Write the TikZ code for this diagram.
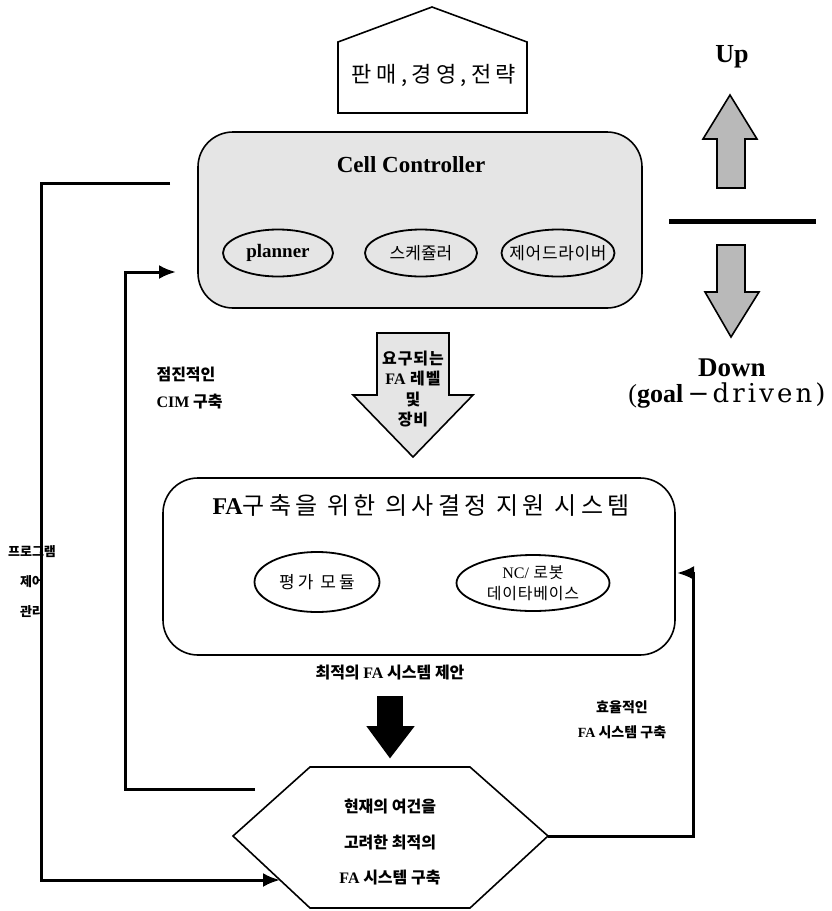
\documentclass[tikz,border=0pt]{standalone}
\usepackage{fontspec}
\setmainfont{Liberation Serif}
\newfontfamily\kr{Noto Sans CJK KR}
\newfontfamily\dvs{DejaVu Serif}
\usetikzlibrary{positioning,shapes.geometric,arrows.meta}
\newcommand{\fsz}[1]{\fontsize{#1}{#1}\selectfont}
\newcommand{\wide}[1]{\addfontfeature{LetterSpace=#1}}

\begin{document}
\begin{tikzpicture}[x=1pt, y=-1pt,
          panel/.style={draw, line width=1.6pt, rounded corners=35pt},
          unit/.style={draw, ellipse, line width=1.8pt, inner sep=0pt},
          bigarrow/.style={draw, line width=1.6pt},
          link/.style={line width=3pt},
          tip/.style={-{Latex[length=17pt,width=14pt]}},
          label/.style={font=\kr\bfseries\fsz{14}, align=center}]
        \useasboundingbox (0,0) rectangle (832,911);
        % top: sales, management, strategy
        \draw[line width=1.6pt] (338,42) -- (432,7) -- (527,42) -- (527,113) -- (338,113) -- cycle;
        \node[font=\kr\fsz{22}\wide{20}] (sales) at (434,75) {판매,경영,전략};
        % cell controller
        \node[panel, fill=gray!20, minimum width=444pt, minimum height=176pt] (cell) at (420,220) {};
        \node[font=\fsz{23}\bfseries] (celltitle) at (411,165) {Cell Controller};
        \node[unit, minimum width=110pt, minimum height=47pt, font=\fsz{19}\bfseries] (planner) at (278,253) {planner};
        \node[unit, minimum width=112pt, minimum height=47pt, font=\kr\fsz{17}] (sched) at (421,253) {스케쥴러};
        \node[unit, minimum width=113pt, minimum height=47pt, inner xsep=-12pt, font=\kr\fsz{17}\wide{4}] (driver) at (558,253) {제어드라이버};
        % requirement arrow
        \draw[bigarrow, fill=gray!20] (377,333) -- (449,333) -- (449,395) -- (473,395) -- (413,457) -- (353,395) -- (377,395) -- cycle;
        \node[font=\kr\bfseries\fontsize{16}{20.5}\selectfont\wide{6}, align=center] (need) at (413,389)
          {요구되는\\{\rmfamily FA} 레벨\\및\\장비};
        % up / down
        \node[font=\fsz{26}\bfseries] (up) at (732,57) {Up};
        \draw[bigarrow, fill=gray!55] (730,95) -- (757,139) -- (745,139) -- (745,188) -- (717,188) -- (717,139) -- (703,139) -- cycle;
        \draw[line width=5pt] (669,221) -- (816,221);
        \draw[bigarrow, fill=gray!55] (731,337) -- (759,292) -- (745,292) -- (745,245) -- (717,245) -- (717,292) -- (705,292) -- cycle;
        \node[font=\fsz{27}\bfseries] (down) at (732,368) {Down};
        \node[font=\fsz{26}] (goal) at (727,395) {(\textbf{goal}\,{\dvs\wide{12}−driven)}};
        % decision support system
        \node[panel, minimum width=512pt, minimum height=177pt] (dss) at (419,566.5) {};
        \node[font=\kr\fsz{24}\wide{18}] (dsstitle) at (421,505) {\textbf{\rmfamily FA}구축을 위한 의사결정 지원 시스템};
        \node[unit, minimum width=125pt, minimum height=60pt, font=\kr\fsz{17}\wide{18}] (eval) at (317,582) {평가 모듈};
        \node[unit, minimum width=153pt, minimum height=56pt, font=\kr\fontsize{16}{21}\selectfont\wide{5}, align=center] (ncdb) at (533,583)
          {{\rmfamily NC/} 로봇\\데이타베이스};
        \node[font=\kr\bfseries\fsz{16}] (propose) at (390,673) {최적의 {\rmfamily FA} 시스템 제안};
        \draw[bigarrow, fill=black] (378,697) -- (402,697) -- (402,727) -- (413,727) -- (390,757) -- (368,727) -- (378,727) -- cycle;
        % construction
        \coordinate (hexW) at (233,836);
        \coordinate (hexE) at (548,836);
        \draw[line width=1.6pt] (310,767) -- (470,767) -- (hexE) -- (470,908) -- (310,908) -- (hexW) -- cycle;
        \node[font=\kr\bfseries\fontsize{16}{35.5}\selectfont, align=center] (build) at (390,842)
          {현재의 여건을\\고려한 최적의\\{\rmfamily FA} 시스템 구축};
        % feedback lines
        \coordinate (cellout) at (170,183);
        \coordinate (hexin) at (280,880);
        \coordinate (hexout) at (255,789);
        \coordinate (cellin) at (176,272);
        \coordinate (dssin) at (677,573);
        \draw[link, tip] (cellout) -- ++(-129,0) |- (hexin);
        \draw[link, tip] (hexout) -- ++(-130,0) |- (cellin);
        \draw[link, tip] (hexE) -- ++(145,0) |- (dssin);
        \node[label, anchor=west, align=left, font=\kr\bfseries\fontsize{16}{27}\selectfont] (cim) at (153,388)
          {점진적인\\{\rmfamily CIM} 구축};
        \node[label, font=\kr\bfseries\fontsize{13}{30}\selectfont] (prog) at (32,582) {프로그램\\제어\\관리};
        \node[label, font=\kr\bfseries\fontsize{14}{25}\selectfont] (effic) at (622,720) {효율적인\\{\rmfamily FA} 시스템 구축};
      \end{tikzpicture}
\end{document}
